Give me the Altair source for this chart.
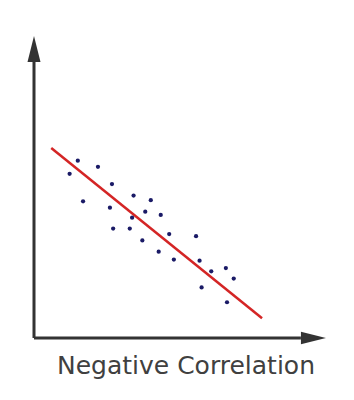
import altair as alt
import pandas as pd

# scatter points (arbitrary units)
pt_x = [1.50, 2.19, 1.22, 2.67, 1.68, 3.41, 4.00, 2.60, 3.81, 3.36, 4.34, 2.71,
        3.28, 4.63, 3.71, 4.27, 4.79, 5.55, 5.67, 6.07, 6.57, 6.84, 5.74, 6.61]
pt_y = [5.85, 5.65, 5.42, 5.08, 4.51, 4.70, 4.55, 4.30, 4.17, 3.97, 4.06, 3.61,
        3.61, 3.43, 3.22, 2.85, 2.59, 3.36, 2.55, 2.20, 2.31, 1.96, 1.67, 1.18]

# trend line end points
line_x = [0.59, 7.81]
line_y = [6.27, 0.65]

# axis lines (with arrow heads)
axis_x_start = [0, 0]
axis_y_start = [0, 0]
axis_x_end = [0, 9.14]
axis_y_end = [9.11, 0]
arrow_x = [0, 9.57]
arrow_y = [9.54, 0]
arrow_shape = ["M0,-1L0.5,1L-0.5,1Z", "M1,0L-1,-0.5L-1,0.5Z"]
arrow_size = [676, 625]

title_text = "Negative Correlation"

xs = alt.Scale(domain=[0, 10], nice=False, zero=False)
ys = alt.Scale(domain=[0, 10], nice=False, zero=False)

pts = pd.DataFrame({"x": pt_x, "y": pt_y})
ln = pd.DataFrame({"x": line_x, "y": line_y})
ax = pd.DataFrame({"x": axis_x_start, "y": axis_y_start, "x2": axis_x_end, "y2": axis_y_end})
arr = pd.DataFrame({"x": arrow_x, "y": arrow_y, "shape": arrow_shape, "size": arrow_size})

axes = alt.Chart(ax).mark_rule(color="#333333", strokeWidth=3).encode(
    x=alt.X("x:Q", scale=xs, axis=None),
    y=alt.Y("y:Q", scale=ys, axis=None),
    x2="x2:Q", y2="y2:Q",
)

arrows_up = alt.Chart(arr.iloc[[0]]).mark_point(
    shape=arrow_shape[0], size=arrow_size[0], filled=True, color="#333333", opacity=1
).encode(x=alt.X("x:Q", scale=xs, axis=None), y=alt.Y("y:Q", scale=ys, axis=None))

arrows_right = alt.Chart(arr.iloc[[1]]).mark_point(
    shape=arrow_shape[1], size=arrow_size[1], filled=True, color="#333333", opacity=1
).encode(x=alt.X("x:Q", scale=xs, axis=None), y=alt.Y("y:Q", scale=ys, axis=None))

trend = alt.Chart(ln).mark_line(color="#d42525", strokeWidth=2.5).encode(
    x=alt.X("x:Q", scale=xs, axis=None),
    y=alt.Y("y:Q", scale=ys, axis=None),
)

dots = alt.Chart(pts).mark_circle(color="#1a1a66", size=18, opacity=1).encode(
    x=alt.X("x:Q", scale=xs, axis=None),
    y=alt.Y("y:Q", scale=ys, axis=None),
)

chart = alt.layer(axes, arrows_up, arrows_right, trend, dots).properties(
    width=292,
    height=303,
    background="white",
    view=alt.ViewBackground(stroke=None, strokeWidth=0),
    title=alt.TitleParams(
        text=title_text, orient="bottom", anchor="middle", fontSize=25,
        font="DejaVu Sans", fontWeight="normal", color="#404040", offset=10, dx=6,
    ),
    autosize=alt.AutoSizeParams(type="none"),
    padding={"left": 34, "top": 35, "right": 28, "bottom": 62},
).configure_view(stroke=None, strokeWidth=0)

chart.save("out.html", embed_options={"renderer": "svg", "actions": False})
